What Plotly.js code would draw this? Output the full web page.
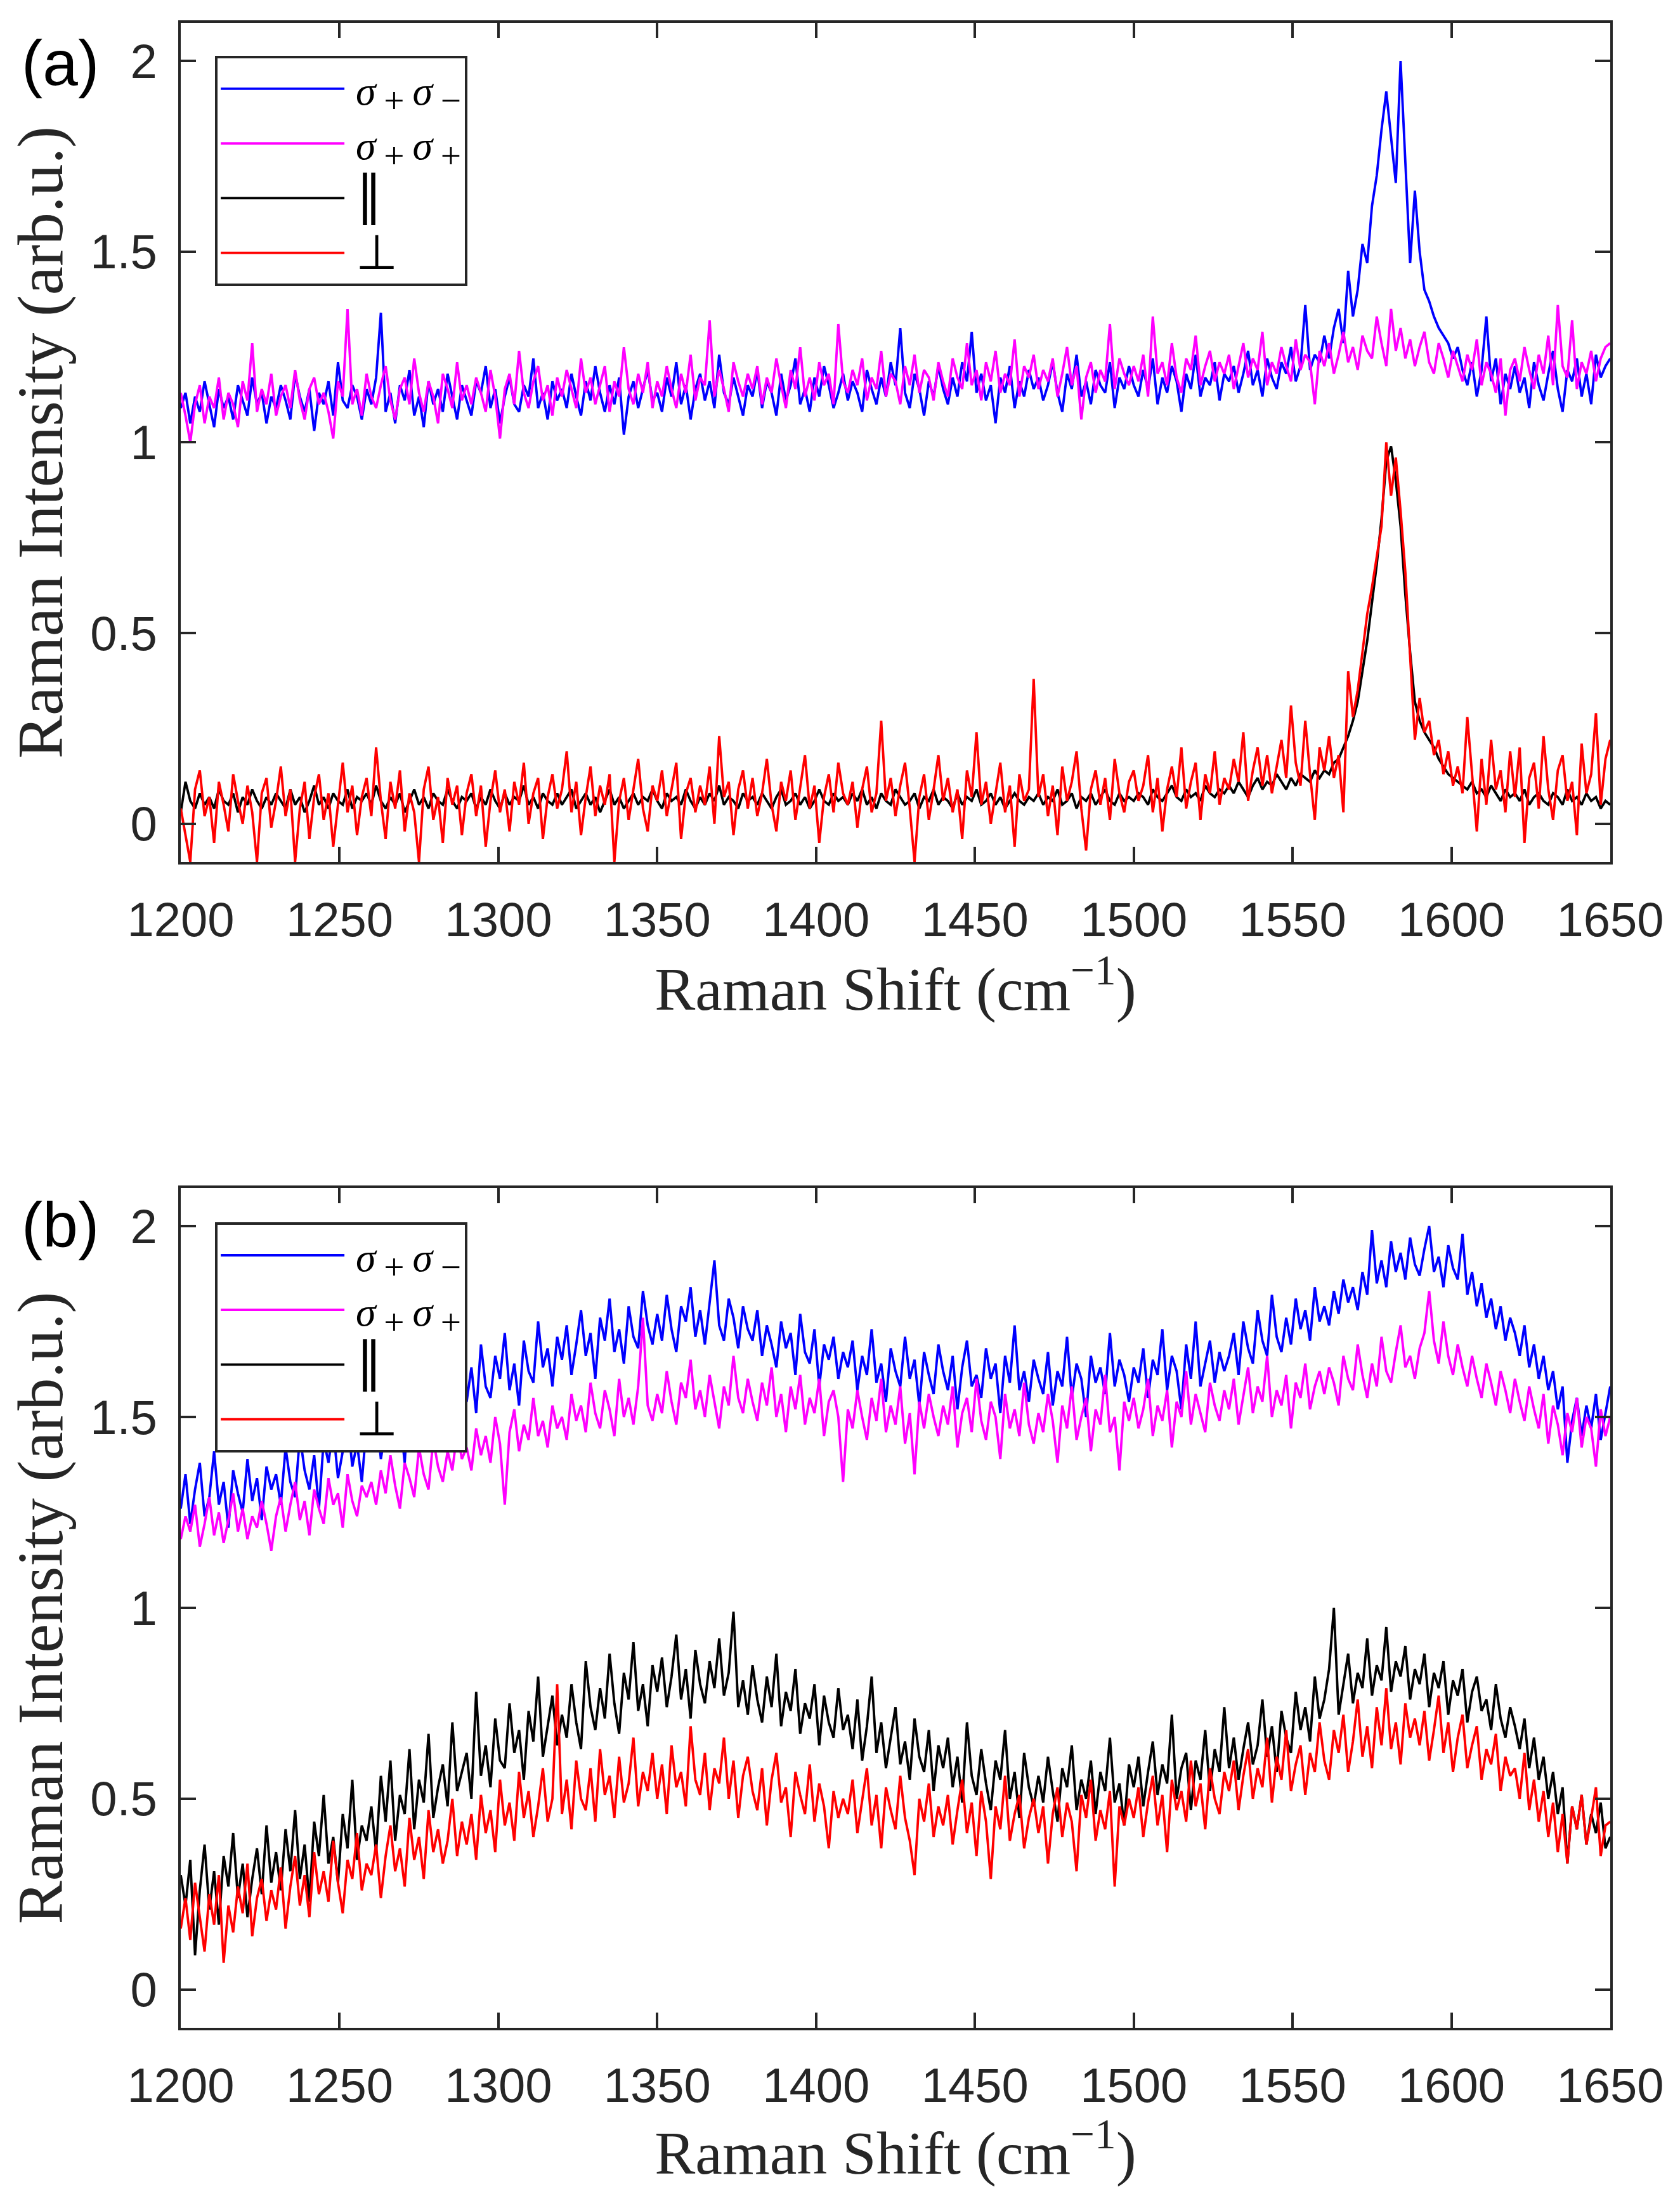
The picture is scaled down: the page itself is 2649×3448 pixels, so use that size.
<!DOCTYPE html>
<html>
<head>
<meta charset="utf-8">
<script src="https://cdn.plot.ly/plotly-3.0.1.min.js"></script>
<style>
  html, body { margin: 0; padding: 0; background: #fff; }
  #chart { width: 2649px; height: 3448px; }
</style>
</head>
<body>
<div id="chart"></div>
<script>
// Raman shift sampling grid, 1200..1650 cm-1 in 1.5 steps (301 points)
const shift = Array.from({ length: 301 }, (_, i) => 1200 + 1.5 * i);

const sp = '\u2009';
const subPlus = '<sub><span style="font-size:128%">+</span></sub>';
const subMinus = '<sub><span style="font-size:128%">−</span></sub>';
const names = [
  sp + '<i>σ</i>' + sp + subPlus + sp + '<i>σ</i>' + sp + subMinus,
  sp + '<i>σ</i>' + sp + subPlus + sp + '<i>σ</i>' + sp + subPlus,
  sp + '<span style="font-size:132%">∥</span>',
  sp + '<span style="font-size:118%">⊥</span>'
];
const colors = ['#0000ff', '#ff00ff', '#000000', '#ff0000'];
const yTicks = [0, 0.5, 1, 1.5, 2];
const xTicks = [1200, 1250, 1300, 1350, 1400, 1450, 1500, 1550, 1600, 1650];

// panel (a)
const aSigmaMinus = [
  1.09, 1.13, 1.05, 1.12, 1.08, 1.16, 1.10, 1.04, 1.14, 1.09, 1.12, 1.06, 1.15, 1.11, 1.07, 1.17, 1.10, 1.13, 1.05, 1.12,
  1.09, 1.15, 1.11, 1.06, 1.18, 1.12, 1.08, 1.14, 1.03, 1.13, 1.10, 1.16, 1.07, 1.21, 1.11, 1.09, 1.15, 1.12, 1.06, 1.14,
  1.10, 1.17, 1.34, 1.08, 1.13, 1.05, 1.15, 1.11, 1.19, 1.07, 1.12, 1.04, 1.16, 1.10, 1.14, 1.08, 1.18, 1.12, 1.06, 1.15,
  1.11, 1.07, 1.16, 1.13, 1.20, 1.09, 1.14, 1.05, 1.12, 1.17, 1.10, 1.08, 1.15, 1.12, 1.22, 1.09, 1.13, 1.06, 1.16, 1.11,
  1.14, 1.09, 1.18, 1.12, 1.07, 1.16, 1.11, 1.20, 1.13, 1.08, 1.15, 1.10, 1.17, 1.02, 1.12, 1.16, 1.09, 1.14, 1.19, 1.11,
  1.13, 1.08, 1.17, 1.12, 1.21, 1.10, 1.15, 1.06, 1.14, 1.18, 1.11, 1.16, 1.09, 1.23, 1.13, 1.10, 1.17, 1.12, 1.07, 1.15,
  1.12, 1.19, 1.09, 1.16, 1.13, 1.07, 1.18, 1.11, 1.15, 1.22, 1.10, 1.14, 1.08, 1.17, 1.12, 1.20, 1.15, 1.09, 1.13, 1.18,
  1.11, 1.16, 1.13, 1.08, 1.19, 1.14, 1.10, 1.17, 1.12, 1.21, 1.15, 1.30, 1.13, 1.09, 1.18, 1.14, 1.07, 1.16, 1.12, 1.20,
  1.14, 1.10, 1.17, 1.12, 1.21, 1.16, 1.29, 1.13, 1.18, 1.11, 1.15, 1.05, 1.17, 1.13, 1.20, 1.09, 1.16, 1.12, 1.19, 1.14,
  1.17, 1.11, 1.15, 1.21, 1.13, 1.08, 1.18, 1.14, 1.23, 1.12, 1.16, 1.10, 1.19, 1.15, 1.13, 1.21, 1.09, 1.17, 1.14, 1.20,
  1.15, 1.12, 1.19, 1.14, 1.22, 1.10, 1.17, 1.13, 1.20, 1.16, 1.08, 1.18, 1.14, 1.23, 1.12, 1.17, 1.15, 1.21, 1.11, 1.18,
  1.16, 1.20, 1.13, 1.18, 1.24, 1.15, 1.19, 1.12, 1.22, 1.17, 1.14, 1.21, 1.18, 1.25, 1.16, 1.20, 1.36, 1.19, 1.23, 1.21,
  1.28, 1.22, 1.30, 1.35, 1.26, 1.45, 1.33, 1.40, 1.52, 1.47, 1.62, 1.70, 1.82, 1.92, 1.80, 1.68, 2.00, 1.75, 1.47, 1.66,
  1.50, 1.40, 1.37, 1.33, 1.30, 1.28, 1.26, 1.22, 1.25, 1.19, 1.15, 1.21, 1.12, 1.19, 1.33, 1.16, 1.22, 1.10, 1.18, 1.14,
  1.20, 1.13, 1.17, 1.09, 1.21, 1.15, 1.11, 1.18, 1.24, 1.14, 1.08, 1.19, 1.16, 1.22, 1.12, 1.18, 1.10, 1.23, 1.17, 1.20,
  1.22
];
const aSigmaPlus = [
  1.13, 1.07, 1.00, 1.10, 1.15, 1.05, 1.12, 1.09, 1.17, 1.06, 1.13, 1.10, 1.04, 1.16, 1.11, 1.26, 1.08, 1.14, 1.10, 1.18,
  1.07, 1.12, 1.15, 1.09, 1.19, 1.11, 1.06, 1.14, 1.17, 1.10, 1.13, 1.08, 1.01, 1.16, 1.12, 1.35, 1.10, 1.14, 1.07, 1.18,
  1.12, 1.09, 1.15, 1.20, 1.11, 1.06, 1.14, 1.17, 1.10, 1.22, 1.13, 1.08, 1.16, 1.12, 1.05, 1.18, 1.14, 1.09, 1.21, 1.11,
  1.15, 1.10, 1.17, 1.13, 1.08, 1.19, 1.12, 1.01, 1.14, 1.18, 1.10, 1.24, 1.13, 1.09, 1.16, 1.20, 1.11, 1.15, 1.07, 1.17,
  1.12, 1.19, 1.14, 1.09, 1.22, 1.13, 1.17, 1.10, 1.15, 1.20, 1.08, 1.16, 1.12, 1.25, 1.14, 1.10, 1.18, 1.13, 1.21, 1.09,
  1.16, 1.12, 1.20, 1.14, 1.09, 1.18, 1.13, 1.23, 1.11, 1.17, 1.15, 1.32, 1.12, 1.19, 1.14, 1.08, 1.21, 1.16, 1.12, 1.18,
  1.14, 1.20, 1.10, 1.17, 1.13, 1.22, 1.15, 1.09, 1.19, 1.14, 1.25, 1.12, 1.17, 1.11, 1.21, 1.15, 1.18, 1.10, 1.31, 1.16,
  1.13, 1.19, 1.15, 1.22, 1.11, 1.17, 1.14, 1.24, 1.12, 1.18, 1.16, 1.10, 1.20, 1.15, 1.23, 1.13, 1.19, 1.17, 1.11, 1.21,
  1.16, 1.12, 1.22, 1.17, 1.14, 1.26, 1.15, 1.19, 1.11, 1.21, 1.16, 1.24, 1.13, 1.18, 1.15, 1.27, 1.12, 1.20, 1.17, 1.23,
  1.14, 1.19, 1.16, 1.22, 1.12, 1.18, 1.25, 1.15, 1.20, 1.06, 1.17, 1.21, 1.13, 1.19, 1.16, 1.31, 1.14, 1.22, 1.18, 1.15,
  1.20, 1.16, 1.23, 1.12, 1.33, 1.18, 1.21, 1.15, 1.26, 1.17, 1.13, 1.22, 1.19, 1.28, 1.15, 1.20, 1.24, 1.16, 1.21, 1.18,
  1.23, 1.14, 1.20, 1.26, 1.17, 1.22, 1.19, 1.29, 1.15, 1.21, 1.18, 1.25, 1.20, 1.16, 1.27, 1.19, 1.23, 1.21, 1.10, 1.24,
  1.20, 1.26, 1.18, 1.23, 1.29, 1.21, 1.25, 1.19, 1.28, 1.24, 1.22, 1.33, 1.26, 1.20, 1.35, 1.24, 1.30, 1.22, 1.27, 1.20,
  1.25, 1.29, 1.21, 1.18, 1.26, 1.22, 1.17, 1.24, 1.20, 1.16, 1.23, 1.19, 1.27, 1.15, 1.21, 1.18, 1.13, 1.22, 1.07, 1.19,
  1.22, 1.16, 1.25, 1.19, 1.14, 1.23, 1.18, 1.28, 1.15, 1.36, 1.20, 1.17, 1.32, 1.14, 1.21, 1.18, 1.24, 1.16, 1.22, 1.25,
  1.26
];
const aParallel = [
  0.03, 0.11, 0.06, 0.04, 0.08, 0.05, 0.07, 0.04, 0.09, 0.06, 0.05, 0.08, 0.03, 0.07, 0.05, 0.09, 0.06, 0.04, 0.07, 0.05,
  0.08, 0.06, 0.04, 0.09, 0.05, 0.07, 0.03, 0.06, 0.10, 0.05, 0.07, 0.04, 0.08, 0.06, 0.05, 0.09, 0.04, 0.07, 0.06, 0.08,
  0.05, 0.10, 0.06, 0.04, 0.07, 0.05, 0.08, 0.03, 0.06, 0.09, 0.05, 0.07, 0.04, 0.08, 0.06, 0.05, 0.09, 0.06, 0.04, 0.07,
  0.06, 0.08, 0.04, 0.07, 0.05, 0.09, 0.06, 0.04, 0.08, 0.05, 0.07, 0.06, 0.10, 0.05, 0.07, 0.04, 0.08, 0.06, 0.05, 0.08,
  0.05, 0.07, 0.09, 0.04, 0.06, 0.08, 0.05, 0.07, 0.03, 0.06, 0.09, 0.05, 0.07, 0.04, 0.06, 0.08, 0.05, 0.07, 0.06, 0.09,
  0.06, 0.04, 0.08, 0.06, 0.07, 0.05, 0.09, 0.06, 0.04, 0.07, 0.05, 0.08, 0.06, 0.10, 0.05, 0.07, 0.06, 0.04, 0.08, 0.06,
  0.07, 0.05, 0.08, 0.06, 0.04, 0.07, 0.09, 0.05, 0.06, 0.08, 0.05, 0.07, 0.04, 0.06, 0.09, 0.06, 0.05, 0.08, 0.06, 0.07,
  0.05, 0.08, 0.06, 0.09, 0.05, 0.07, 0.04, 0.08, 0.06, 0.05, 0.09, 0.07, 0.05, 0.06, 0.08, 0.04, 0.07, 0.06, 0.09, 0.05,
  0.07, 0.06, 0.04, 0.08, 0.05, 0.07, 0.06, 0.09, 0.05, 0.06, 0.08, 0.05, 0.07, 0.04, 0.06, 0.08, 0.06, 0.05, 0.07, 0.06,
  0.08, 0.05, 0.07, 0.06, 0.09, 0.05, 0.06, 0.08, 0.04, 0.07, 0.06, 0.08, 0.05, 0.07, 0.09, 0.06, 0.05, 0.08, 0.06, 0.07,
  0.06, 0.08, 0.07, 0.05, 0.09, 0.07, 0.06, 0.08, 0.10, 0.07, 0.06, 0.09, 0.07, 0.08, 0.06, 0.10, 0.08, 0.07, 0.09, 0.08,
  0.10, 0.08, 0.11, 0.09, 0.07, 0.10, 0.12, 0.09, 0.11, 0.10, 0.13, 0.11, 0.09, 0.12, 0.10, 0.13, 0.12, 0.11, 0.14, 0.12,
  0.14, 0.13, 0.16, 0.17, 0.20, 0.23, 0.27, 0.32, 0.40, 0.48, 0.58, 0.68, 0.80, 0.95, 0.99, 0.90, 0.78, 0.60, 0.45, 0.32,
  0.27, 0.24, 0.22, 0.20, 0.17, 0.15, 0.13, 0.12, 0.11, 0.10, 0.09, 0.11, 0.08, 0.09, 0.07, 0.10, 0.08, 0.06, 0.09, 0.07,
  0.08, 0.06, 0.09, 0.05, 0.07, 0.08, 0.06, 0.05, 0.08, 0.07, 0.05, 0.09, 0.06, 0.07, 0.05, 0.08, 0.06, 0.07, 0.04, 0.06,
  0.05
];
const aPerp = [
  0.04, -0.03, -0.10, 0.09, 0.14, 0.02, 0.07, -0.05, 0.11, 0.05, -0.02, 0.13, 0.06, 0.00, 0.10, 0.03, -0.10, 0.08, 0.12, -0.01,
  0.06, 0.15, 0.02, 0.09, -0.10, 0.04, 0.11, -0.04, 0.07, 0.13, 0.01, 0.08, -0.06, 0.05, 0.16, 0.03, 0.10, -0.03, 0.07, 0.12,
  0.02, 0.20, 0.06, -0.04, 0.11, 0.04, 0.14, -0.02, 0.08, 0.03, -0.10, 0.09, 0.15, 0.01, 0.07, -0.05, 0.12, 0.05, 0.10, -0.03,
  0.08, 0.13, 0.02, 0.10, -0.06, 0.06, 0.14, 0.03, 0.09, -0.02, 0.11, 0.05, 0.16, 0.00, 0.08, 0.12, -0.04, 0.07, 0.13, 0.04,
  0.09, 0.19, 0.03, 0.11, -0.03, 0.07, 0.15, 0.02, 0.10, 0.05, 0.13, -0.10, 0.06, 0.12, 0.01, 0.09, 0.17, 0.04, -0.02, 0.10,
  0.06, 0.14, 0.02, 0.09, 0.16, -0.04, 0.08, 0.12, 0.03, 0.10, 0.05, 0.15, 0.00, 0.23, 0.07, 0.11, -0.03, 0.09, 0.14, 0.04,
  0.12, 0.02, 0.08, 0.17, 0.05, -0.02, 0.11, 0.06, 0.14, 0.01, 0.09, 0.18, 0.04, 0.10, -0.05, 0.07, 0.13, 0.03, 0.16, 0.08,
  0.05, 0.11, -0.01, 0.09, 0.15, 0.03, 0.08, 0.27, 0.06, 0.12, 0.02, 0.10, 0.16, 0.04, -0.10, 0.07, 0.13, 0.01, 0.09, 0.18,
  0.06, 0.12, 0.03, 0.09, -0.04, 0.14, 0.07, 0.24, 0.05, 0.11, 0.00, 0.08, 0.16, 0.03, 0.10, -0.06, 0.13, 0.06, 0.09, 0.38,
  0.07, 0.13, 0.02, 0.10, -0.03, 0.15, 0.06, 0.11, 0.19, 0.04, -0.07, 0.09, 0.14, 0.05, 0.12, 0.01, 0.17, 0.08, 0.03, 0.11,
  0.14, 0.06, 0.10, 0.18, 0.03, 0.12, -0.02, 0.09, 0.15, 0.07, 0.20, 0.04, 0.11, 0.16, 0.01, 0.13, 0.08, 0.19, 0.05, 0.12,
  0.09, 0.17, 0.11, 0.24, 0.06, 0.14, 0.20, 0.10, 0.18, 0.08, 0.15, 0.22, 0.12, 0.31, 0.16, 0.10, 0.27, 0.13, 0.01, 0.20,
  0.14, 0.23, 0.12, 0.18, 0.03, 0.40, 0.28, 0.35, 0.45, 0.55, 0.62, 0.70, 0.78, 1.00, 0.86, 0.96, 0.82, 0.66, 0.45, 0.22,
  0.33, 0.24, 0.27, 0.18, 0.22, 0.13, 0.19, 0.10, 0.15, 0.08, 0.28, 0.12, -0.02, 0.17, 0.05, 0.22, 0.09, 0.14, 0.03, 0.19,
  0.07, 0.20, -0.05, 0.12, 0.16, 0.04, 0.23, 0.09, 0.01, 0.14, 0.18, 0.06, 0.11, -0.03, 0.21, 0.08, 0.13, 0.29, 0.05, 0.17,
  0.22
];

// panel (b)
const bSigmaMinus = [
  1.26, 1.35, 1.22, 1.31, 1.38, 1.24, 1.29, 1.41, 1.27, 1.33, 1.21, 1.36, 1.30, 1.25, 1.39, 1.28, 1.34, 1.23, 1.37, 1.31,
  1.35, 1.27, 1.42, 1.33, 1.29, 1.45, 1.36, 1.31, 1.40, 1.26, 1.44, 1.38, 1.47, 1.34, 1.41, 1.50, 1.37, 1.43, 1.33, 1.48,
  1.42, 1.52, 1.39, 1.47, 1.55, 1.44, 1.50, 1.38, 1.58, 1.46, 1.53, 1.62, 1.49, 1.56, 1.45, 1.60, 1.52, 1.67, 1.50, 1.57,
  1.54, 1.63, 1.51, 1.69, 1.58, 1.55, 1.66, 1.60, 1.72, 1.57, 1.64, 1.53, 1.70, 1.62, 1.59, 1.75, 1.63, 1.68, 1.58, 1.71,
  1.65, 1.74, 1.61, 1.69, 1.78, 1.66, 1.72, 1.60, 1.76, 1.70, 1.81, 1.67, 1.73, 1.64, 1.79, 1.71, 1.68, 1.83, 1.74, 1.69,
  1.77, 1.70, 1.82, 1.73, 1.67, 1.79, 1.75, 1.84, 1.71, 1.78, 1.69, 1.80, 1.91, 1.74, 1.70, 1.81, 1.76, 1.68, 1.79, 1.73,
  1.70, 1.78, 1.66, 1.74, 1.69, 1.63, 1.75, 1.68, 1.72, 1.61, 1.77, 1.67, 1.64, 1.73, 1.58, 1.69, 1.65, 1.71, 1.60, 1.67,
  1.63, 1.70, 1.57, 1.66, 1.61, 1.73, 1.59, 1.64, 1.54, 1.68, 1.62, 1.58, 1.71, 1.60, 1.65, 1.53, 1.67, 1.61, 1.56, 1.69,
  1.62, 1.57, 1.66, 1.52, 1.63, 1.70, 1.58, 1.61, 1.55, 1.68, 1.60, 1.64, 1.51, 1.66, 1.59, 1.74, 1.57, 1.62, 1.54, 1.65,
  1.60, 1.56, 1.67, 1.53, 1.62, 1.58, 1.71, 1.55, 1.64, 1.60, 1.50, 1.66, 1.59, 1.63, 1.56, 1.72, 1.58, 1.65, 1.61, 1.54,
  1.63, 1.59, 1.68, 1.55, 1.65, 1.61, 1.73, 1.57, 1.66, 1.62, 1.52, 1.69, 1.60, 1.75, 1.58, 1.64, 1.70, 1.59, 1.67, 1.62,
  1.66, 1.72, 1.61, 1.75, 1.68, 1.64, 1.78, 1.70, 1.66, 1.82, 1.71, 1.67, 1.76, 1.69, 1.81, 1.73, 1.78, 1.70, 1.84, 1.75,
  1.79, 1.74, 1.83, 1.77, 1.86, 1.80, 1.84, 1.78, 1.88, 1.82, 1.99, 1.85, 1.91, 1.84, 1.96, 1.88, 1.93, 1.86, 1.97, 1.90,
  1.87, 1.94, 2.00, 1.88, 1.92, 1.84, 1.95, 1.89, 1.86, 1.98, 1.82, 1.88, 1.79, 1.85, 1.76, 1.81, 1.73, 1.79, 1.70, 1.76,
  1.72, 1.66, 1.74, 1.63, 1.69, 1.60, 1.66, 1.57, 1.62, 1.52, 1.58, 1.38, 1.49, 1.55, 1.45, 1.53, 1.47, 1.56, 1.44, 1.51,
  1.58
];
const bSigmaPlus = [
  1.18, 1.24, 1.20, 1.27, 1.16, 1.22, 1.29, 1.19, 1.25, 1.17, 1.23, 1.30, 1.20, 1.26, 1.18, 1.24, 1.21, 1.28, 1.22, 1.15,
  1.24, 1.29, 1.20, 1.27, 1.33, 1.23, 1.28, 1.19, 1.31, 1.26, 1.22, 1.34, 1.27, 1.30, 1.21, 1.35, 1.28, 1.24, 1.32, 1.29,
  1.33, 1.27, 1.36, 1.30, 1.40, 1.32, 1.26, 1.38, 1.34, 1.29, 1.42, 1.35, 1.31, 1.44, 1.37, 1.33, 1.41, 1.36, 1.46, 1.39,
  1.42, 1.36, 1.47, 1.40, 1.45, 1.38, 1.50, 1.43, 1.27, 1.46, 1.52, 1.41, 1.48, 1.44, 1.55, 1.45, 1.49, 1.42, 1.53, 1.47,
  1.50, 1.44, 1.56, 1.49, 1.53, 1.46, 1.59, 1.51, 1.47, 1.57, 1.52, 1.45, 1.60, 1.50, 1.55, 1.48, 1.58, 1.76, 1.53, 1.49,
  1.56, 1.51, 1.62, 1.54, 1.48, 1.59, 1.55, 1.65, 1.52, 1.57, 1.50, 1.61, 1.54, 1.47, 1.58, 1.53, 1.66, 1.55, 1.51, 1.60,
  1.54, 1.49, 1.59, 1.53, 1.63, 1.50, 1.56, 1.46, 1.58, 1.52, 1.61, 1.48, 1.55, 1.51, 1.60, 1.45, 1.54, 1.57, 1.50, 1.33,
  1.52, 1.47, 1.57, 1.50, 1.44, 1.55, 1.49, 1.60, 1.46, 1.53, 1.48, 1.58, 1.43, 1.51, 1.35, 1.54, 1.47, 1.56, 1.50, 1.45,
  1.53, 1.48, 1.58, 1.42, 1.51, 1.55, 1.46, 1.60, 1.49, 1.44, 1.54, 1.50, 1.39, 1.56, 1.47, 1.52, 1.45, 1.59, 1.48, 1.43,
  1.51, 1.46, 1.56, 1.49, 1.38, 1.53, 1.47, 1.58, 1.44, 1.50, 1.55, 1.41, 1.52, 1.48, 1.61, 1.46, 1.50, 1.36, 1.54, 1.49,
  1.55, 1.47, 1.52, 1.60, 1.45, 1.53, 1.49, 1.57, 1.42, 1.54, 1.50, 1.62, 1.48, 1.56, 1.51, 1.46, 1.59, 1.53, 1.49, 1.57,
  1.52, 1.60, 1.48, 1.56, 1.63, 1.51, 1.58, 1.54, 1.66, 1.50, 1.57, 1.53, 1.61, 1.47, 1.59, 1.55, 1.64, 1.52, 1.58, 1.62,
  1.56, 1.63, 1.59, 1.53, 1.66, 1.60, 1.57, 1.69, 1.61, 1.55, 1.64, 1.58, 1.71, 1.62, 1.59, 1.67, 1.74, 1.63, 1.66, 1.60,
  1.68, 1.72, 1.83, 1.70, 1.64, 1.75, 1.66, 1.61, 1.69, 1.63, 1.58, 1.66, 1.60, 1.55, 1.64, 1.59, 1.53, 1.62, 1.57, 1.51,
  1.60, 1.54, 1.49, 1.58, 1.52, 1.47, 1.56, 1.43, 1.53, 1.48, 1.40, 1.51, 1.46, 1.55, 1.42, 1.50, 1.47, 1.37, 1.52, 1.45,
  1.50
];
const bParallel = [
  0.30, 0.22, 0.34, 0.09, 0.26, 0.38, 0.21, 0.31, 0.17, 0.35, 0.27, 0.41, 0.24, 0.33, 0.19, 0.29, 0.37, 0.25, 0.43, 0.28,
  0.36, 0.26, 0.42, 0.31, 0.47, 0.29, 0.38, 0.23, 0.44, 0.35, 0.51, 0.33, 0.40, 0.28, 0.46, 0.37, 0.55, 0.34, 0.43, 0.39,
  0.48, 0.36, 0.56, 0.44, 0.60, 0.39, 0.51, 0.46, 0.63, 0.42, 0.55, 0.49, 0.67, 0.45, 0.53, 0.59, 0.48, 0.70, 0.52, 0.57,
  0.62, 0.50, 0.78, 0.56, 0.64, 0.53, 0.71, 0.60, 0.58, 0.75, 0.62, 0.68, 0.55, 0.73, 0.65, 0.82, 0.61, 0.69, 0.77, 0.64,
  0.72, 0.66, 0.80, 0.70, 0.63, 0.86, 0.74, 0.68, 0.79, 0.71, 0.88, 0.75, 0.67, 0.83, 0.76, 0.91, 0.73, 0.80, 0.69, 0.85,
  0.78, 0.87, 0.74, 0.82, 0.93, 0.76, 0.84, 0.71, 0.89, 0.80, 0.75, 0.86, 0.79, 0.92, 0.77, 0.83, 0.99, 0.74, 0.81, 0.72,
  0.85, 0.76, 0.70, 0.82, 0.74, 0.88, 0.69, 0.78, 0.73, 0.84, 0.67, 0.75, 0.71, 0.80, 0.64, 0.77, 0.70, 0.66, 0.79, 0.68,
  0.72, 0.63, 0.76, 0.60, 0.69, 0.82, 0.62, 0.70, 0.58, 0.66, 0.74, 0.59, 0.65, 0.55, 0.71, 0.61, 0.57, 0.68, 0.52, 0.64,
  0.58, 0.66, 0.53, 0.61, 0.49, 0.70, 0.56, 0.51, 0.63, 0.54, 0.47, 0.60, 0.55, 0.68, 0.50, 0.57, 0.45, 0.62, 0.53, 0.48,
  0.56, 0.49, 0.61, 0.52, 0.44, 0.58, 0.53, 0.64, 0.47, 0.55, 0.50, 0.60, 0.46, 0.57, 0.52, 0.66, 0.49, 0.54, 0.43, 0.59,
  0.53, 0.61, 0.48, 0.57, 0.65, 0.51, 0.59, 0.54, 0.72, 0.50, 0.58, 0.62, 0.47, 0.60, 0.55, 0.68, 0.52, 0.63, 0.57, 0.74,
  0.58, 0.66, 0.55, 0.63, 0.70, 0.59, 0.64, 0.76, 0.61, 0.69, 0.57, 0.73, 0.66, 0.62, 0.78, 0.68, 0.74, 0.65, 0.82, 0.71,
  0.76, 0.84, 1.00, 0.72, 0.80, 0.88, 0.75, 0.83, 0.79, 0.92, 0.77, 0.85, 0.81, 0.95, 0.78, 0.86, 0.82, 0.90, 0.76, 0.84,
  0.80, 0.88, 0.74, 0.83, 0.79, 0.86, 0.72, 0.81, 0.77, 0.84, 0.70, 0.78, 0.82, 0.73, 0.76, 0.68, 0.80, 0.71, 0.66, 0.74,
  0.69, 0.63, 0.71, 0.58, 0.66, 0.55, 0.61, 0.50, 0.57, 0.46, 0.53, 0.33, 0.48, 0.42, 0.51, 0.38, 0.46, 0.41, 0.49, 0.37,
  0.40
];
const bPerp = [
  0.16, 0.24, 0.13, 0.28, 0.19, 0.10, 0.25, 0.17, 0.30, 0.07, 0.22, 0.15, 0.27, 0.20, 0.33, 0.14, 0.24, 0.29, 0.18, 0.26,
  0.21, 0.32, 0.16, 0.27, 0.35, 0.22, 0.30, 0.19, 0.36, 0.25, 0.31, 0.23, 0.39, 0.28, 0.20, 0.34, 0.29, 0.41, 0.26, 0.33,
  0.30, 0.38, 0.24, 0.35, 0.43, 0.31, 0.37, 0.27, 0.45, 0.34, 0.40, 0.29, 0.47, 0.36, 0.42, 0.33, 0.39, 0.50, 0.35, 0.44,
  0.38, 0.46, 0.34, 0.51, 0.41, 0.47, 0.36, 0.55, 0.43, 0.49, 0.39, 0.57, 0.45, 0.52, 0.40, 0.48, 0.58, 0.44, 0.50, 0.80,
  0.46, 0.55, 0.42, 0.60, 0.50, 0.47, 0.58, 0.44, 0.63, 0.51, 0.56, 0.45, 0.61, 0.49, 0.54, 0.66, 0.48, 0.57, 0.52, 0.62,
  0.50, 0.59, 0.46, 0.64, 0.53, 0.57, 0.48, 0.69, 0.55, 0.51, 0.62, 0.47, 0.58, 0.54, 0.66, 0.50, 0.60, 0.45, 0.56, 0.61,
  0.52, 0.47, 0.58, 0.43, 0.55, 0.62, 0.49, 0.53, 0.40, 0.57, 0.51, 0.46, 0.59, 0.44, 0.54, 0.48, 0.37, 0.52, 0.45, 0.50,
  0.46, 0.55, 0.41, 0.49, 0.58, 0.43, 0.51, 0.37, 0.53, 0.47, 0.42, 0.56, 0.45, 0.39, 0.30, 0.50, 0.44, 0.54, 0.40, 0.48,
  0.43, 0.51, 0.38, 0.47, 0.55, 0.41, 0.49, 0.35, 0.52, 0.44, 0.29, 0.48, 0.42, 0.56, 0.39, 0.46, 0.51, 0.37, 0.45, 0.50,
  0.41, 0.48, 0.33, 0.46, 0.53, 0.40, 0.49, 0.44, 0.31, 0.51, 0.45, 0.55, 0.39, 0.47, 0.42, 0.52, 0.27, 0.48, 0.43, 0.50,
  0.45, 0.53, 0.40, 0.49, 0.56, 0.43, 0.51, 0.36, 0.55, 0.47, 0.52, 0.44, 0.60, 0.48, 0.54, 0.42, 0.58, 0.50, 0.46, 0.57,
  0.52, 0.60, 0.47, 0.56, 0.63, 0.50, 0.58, 0.53, 0.66, 0.49, 0.61, 0.55, 0.68, 0.52, 0.59, 0.64, 0.51, 0.62, 0.57, 0.70,
  0.60, 0.55, 0.68, 0.62, 0.72, 0.57, 0.65, 0.76, 0.61, 0.69, 0.58, 0.74, 0.64, 0.79, 0.63, 0.70, 0.59, 0.75, 0.66, 0.71,
  0.64, 0.73, 0.60, 0.68, 0.77, 0.62, 0.70, 0.57, 0.66, 0.72, 0.58, 0.64, 0.69, 0.55, 0.63, 0.59, 0.67, 0.52, 0.61, 0.56,
  0.58, 0.50, 0.62, 0.47, 0.55, 0.44, 0.52, 0.40, 0.49, 0.36, 0.46, 0.33, 0.48, 0.42, 0.51, 0.38, 0.45, 0.53, 0.35, 0.43,
  0.44
];

const axisColor = '#262626';
const tickFont = { family: 'Liberation Sans, Arial, sans-serif', size: 76, color: axisColor };
const xTitleFont = { family: 'Liberation Serif, Times New Roman, serif', size: 96, color: axisColor };
const yTitleFont = { family: 'Liberation Serif, Times New Roman, serif', size: 102, color: axisColor };
const labelFont = { family: 'Liberation Sans, Arial, sans-serif', size: 100, color: '#000000' };

function makeTraces(series, xa, ya, legendId) {
  return series.map((y, k) => ({
    x: shift,
    y: y,
    name: names[k],
    type: 'scatter',
    mode: 'lines',
    line: { color: colors[k], width: 3.8 },
    xaxis: xa,
    yaxis: ya,
    legend: legendId,
  }));
}

function xAxis(anchor) {
  return {
    anchor: anchor,
    domain: [0, 1],
    range: [1200, 1650],
    tickvals: xTicks,
    ticks: 'inside',
    ticklen: 24,
    tickwidth: 4,
    tickcolor: axisColor,
    showline: true,
    linewidth: 4,
    linecolor: axisColor,
    mirror: 'allticks',
    showgrid: false,
    zeroline: false,
    tickfont: tickFont,
    ticklabelstandoff: 22,
    title: { text: 'Raman Shift (cm<sup>−1</sup>)', font: xTitleFont, standoff: 22 },
  };
}

function yAxis(anchor, domain) {
  return {
    anchor: anchor,
    domain: domain,
    range: [-0.1, 2.1],
    tickvals: yTicks,
    ticks: 'inside',
    ticklen: 24,
    tickwidth: 4,
    tickcolor: axisColor,
    showline: true,
    linewidth: 4,
    linecolor: axisColor,
    mirror: 'allticks',
    showgrid: false,
    zeroline: false,
    tickfont: tickFont,
    ticklabelstandoff: 18,
    title: { text: 'Raman Intensity (arb.u.)', font: yTitleFont, standoff: 10 },
  };
}

function legendBox(top) {
  return {
    x: 0.024,
    y: top,
    xanchor: 'left',
    yanchor: 'top',
    bgcolor: '#ffffff',
    bordercolor: axisColor,
    borderwidth: 4,
    itemwidth: 195,
    tracegroupgap: 0,
    font: { family: 'Liberation Serif, Times New Roman, serif', size: 64, color: '#000000' },
  };
}

const data = [].concat(
  makeTraces([aSigmaMinus, aSigmaPlus, aParallel, aPerp], 'x', 'y', 'legend'),
  makeTraces([bSigmaMinus, bSigmaPlus, bParallel, bPerp], 'x2', 'y2', 'legend2')
);

const layout = {
  width: 2649,
  height: 3448,
  margin: { l: 285, r: 110, t: 36, b: 251 },
  paper_bgcolor: '#ffffff',
  plot_bgcolor: '#ffffff',
  showlegend: true,
  xaxis: xAxis('y'),
  yaxis: yAxis('x', [0.5815, 1]),
  xaxis2: xAxis('y2'),
  yaxis2: yAxis('x2', [0, 0.4189]),
  legend: legendBox(0.9836),
  legend2: legendBox(0.4018),
  annotations: [
    { text: '(a)', xref: 'paper', yref: 'paper', x: -0.0843, y: 0.980, xanchor: 'center', yanchor: 'middle',
      showarrow: false, font: labelFont },
    { text: '(b)', xref: 'paper', yref: 'paper', x: -0.0843, y: 0.4005, xanchor: 'center', yanchor: 'middle',
      showarrow: false, font: labelFont },
  ],
};

Plotly.newPlot('chart', data, layout, { displayModeBar: false, staticPlot: true });
</script>
</body>
</html>
